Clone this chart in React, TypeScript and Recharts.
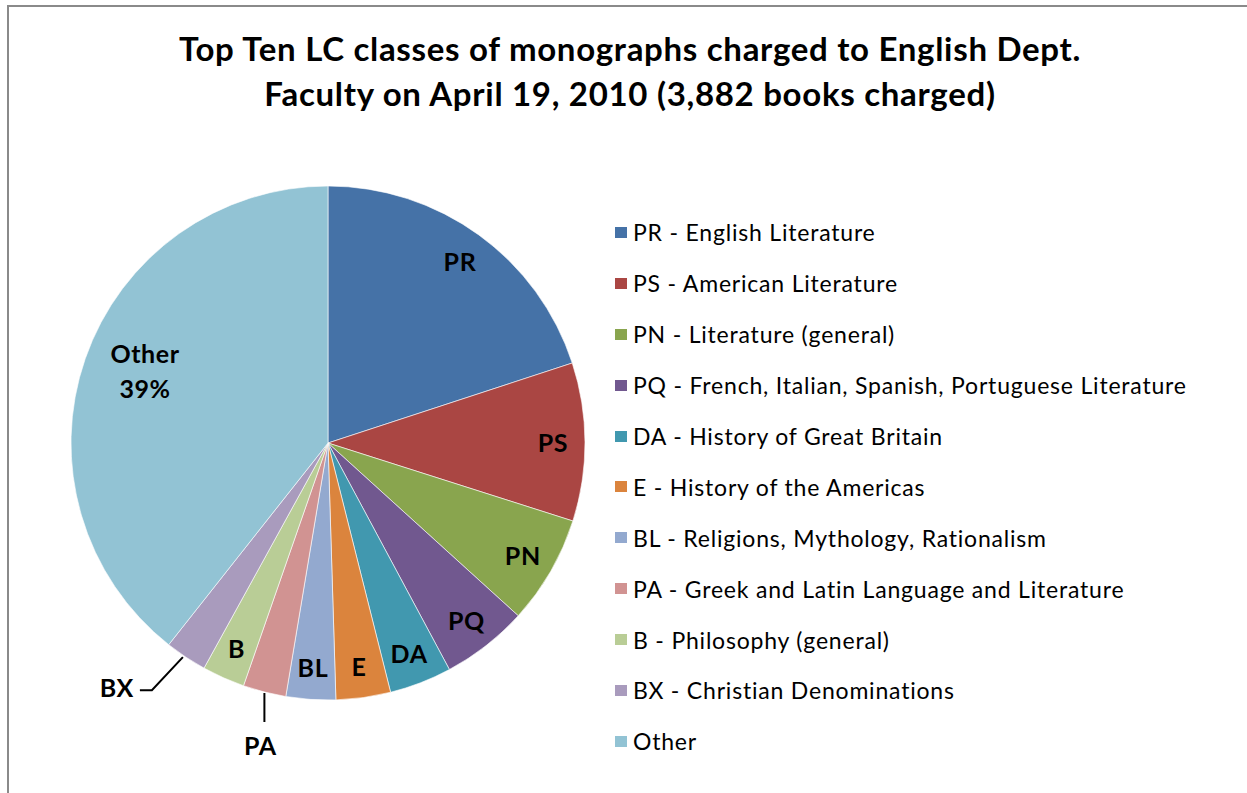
import { PieChart, Pie, Cell, Legend } from 'recharts';

const categories = ['PR', 'PS', 'PN', 'PQ', 'DA', 'E', 'BL', 'PA', 'B', 'BX', 'Other'];

const descriptions = [
  'English Literature',
  'American Literature',
  'Literature (general)',
  'French, Italian, Spanish, Portuguese Literature',
  'History of Great Britain',
  'History of the Americas',
  'Religions, Mythology, Rationalism',
  'Greek and Latin Language and Literature',
  'Philosophy (general)',
  'Christian Denominations',
  '',
];

// books charged (total 3,882)
const booksCharged = [775, 386, 265, 211, 152, 133, 121, 105, 104, 102, 1528];

const COLORS = [
  '#4572A7', '#AA4643', '#89A54E', '#71588F', '#4198AF', '#DB843D',
  '#93A9CF', '#D19392', '#B9CD96', '#A99BBD', '#92C3D4',
];

const FONT = 'Lato, "Open Sans", sans-serif';
const RAD = Math.PI / 180;

const data = categories.map((code, i) => ({
  code,
  legend: descriptions[i] ? `${code} - ${descriptions[i]}` : code,
  value: booksCharged[i],
}));

function renderLabel(props: any) {
  const { cx, cy, midAngle, outerRadius, percent, index } = props;
  const code = categories[index];
  const cos = Math.cos(-midAngle * RAD);
  const sin = Math.sin(-midAngle * RAD);
  const textProps = {
    fontFamily: FONT,
    fontWeight: 700,
    fontSize: 25,
    letterSpacing: 0.6,
    fill: '#000',
    dominantBaseline: 'central' as const,
  };

  if (code === 'PA') {
    const ex = cx + outerRadius * cos;
    const ey = cy + outerRadius * sin;
    return (
      <g key={`lbl-${index}`}>
        <path d={`M${ex},${ey + 1}L${ex},${ey + 30}`} stroke="#000" strokeWidth={2} fill="none" />
        <text x={ex - 4} y={ey + 53} textAnchor="middle" {...textProps}>{code}</text>
      </g>
    );
  }
  if (code === 'BX') {
    const ex = cx + outerRadius * cos;
    const ey = cy + outerRadius * sin;
    return (
      <g key={`lbl-${index}`}>
        <path
          d={`M${ex - 3},${ey}L${ex - 34},${ey + 33}L${ex - 46},${ey + 33}`}
          stroke="#000"
          strokeWidth={2}
          fill="none"
        />
        <text x={ex - 52} y={ey + 30} textAnchor="end" {...textProps}>{code}</text>
      </g>
    );
  }
  if (code === 'Other') {
    const r = outerRadius * 0.77;
    const x = cx + r * cos + 4;
    const y = cy + r * sin;
    return (
      <g key={`lbl-${index}`}>
        <text x={x} y={y - 25} textAnchor="middle" {...textProps}>{code}</text>
        <text x={x} y={y + 10} textAnchor="middle" {...textProps}>{`${Math.round(percent * 100)}%`}</text>
      </g>
    );
  }
  const r = outerRadius * 0.875;
  return (
    <text key={`lbl-${index}`} x={cx + r * cos} y={cy + r * sin} textAnchor="middle" {...textProps}>
      {code}
    </text>
  );
}

function renderLegend() {
  return (
    <div style={{ fontFamily: FONT, fontSize: 23, letterSpacing: 0.8, color: '#000' }}>
      {data.map((entry, i) => (
        <div key={`leg-${i}`} style={{ display: 'flex', alignItems: 'center', height: 50.9 }}>
          <span style={{ width: 12, height: 11, background: COLORS[i], marginRight: 6, display: 'inline-block' }} />
          <span style={{ whiteSpace: 'nowrap' }}>{entry.legend}</span>
        </div>
      ))}
    </div>
  );
}

export default function App() {
  return (
    <div
      style={{
        position: 'absolute',
        left: 0,
        top: 0,
        width: 1247,
        height: 793,
        overflow: 'hidden',
        background: '#fff',
      }}
    >
      <div
        style={{
          position: 'absolute',
          left: 7,
          top: 5,
          width: 1300,
          height: 850,
          borderTop: '2px solid #8a8a8a',
          borderLeft: '2px solid #8a8a8a',
        }}
      />
      <div
        style={{
          position: 'absolute',
          left: 0,
          top: 26,
          width: 1260,
          textAlign: 'center',
          fontFamily: FONT,
          fontWeight: 700,
          fontSize: 33,
          letterSpacing: 0.7,
          lineHeight: '45px',
          color: '#000',
        }}
      >
        Top Ten LC classes of monographs charged to English Dept.
        <br />
        Faculty on April 19, 2010 (3,882 books charged)
      </div>
      <div style={{ position: 'absolute', left: 0, top: 0 }}>
        <PieChart width={1247} height={793} margin={{ top: 0, right: 0, bottom: 0, left: 0 }}>
          <Pie
            data={data}
            dataKey="value"
            nameKey="legend"
            cx={328}
            cy={443}
            outerRadius={257}
            startAngle={90}
            endAngle={-270}
            stroke="#ffffff"
            strokeWidth={0.6}
            label={renderLabel}
            labelLine={false}
            isAnimationActive={false}
          >
            {data.map((_entry, index) => (
              <Cell key={`cell-${index}`} fill={COLORS[index % COLORS.length]} />
            ))}
          </Pie>
          <Legend
            layout="vertical"
            content={renderLegend}
            wrapperStyle={{ position: 'absolute', left: 615, top: 207, width: 620 }}
          />
        </PieChart>
      </div>
    </div>
  );
}
